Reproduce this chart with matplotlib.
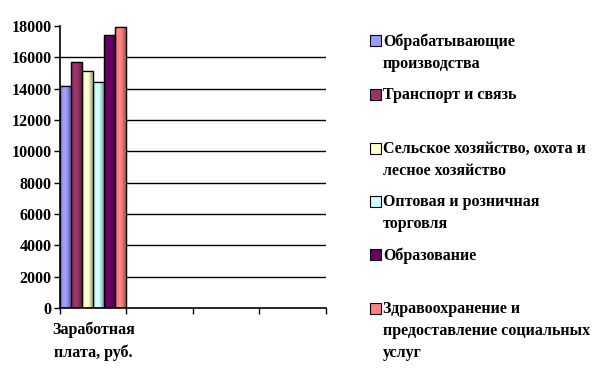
import matplotlib
matplotlib.use("Agg")
import matplotlib.pyplot as plt
from matplotlib.patches import Rectangle
from matplotlib.colors import to_rgb
import numpy as np

categories = ["Заработная\nплата, руб.", "", "", ""]
series_names = [
    "Обрабатывающие\nпроизводства",
    "Транспорт и связь",
    "Сельское хозяйство, охота и\nлесное хозяйство",
    "Оптовая и розничная\nторговля",
    "Образование",
    "Здравоохранение и\nпредоставление социальных\nуслуг",
]
values = [14200, 15700, 15100, 14400, 17400, 17950]
colors = ["#9999FF", "#993366", "#FFFFCC", "#CCFFFF", "#660066", "#FF8080"]
yticks = [0, 2000, 4000, 6000, 8000, 10000, 12000, 14000, 16000, 18000]

plt.rcParams["font.family"] = ["Liberation Serif", "DejaVu Serif"]
plt.rcParams["font.weight"] = "bold"

fig = plt.figure(figsize=(5.98, 3.70), dpi=100)
ax = fig.add_axes([0.1003, 0.1676, 0.4448, 0.7621])

n = len(values)
w = 1.0 / n
bars = []
for i, (v, c) in enumerate(zip(values, colors)):
    x = -0.5 + w * (i + 0.5)
    b = ax.bar(x, v, width=w, color=c, edgecolor="black", linewidth=0.9, zorder=3)
    bars.append(b[0])

# cylinder-like shading across each bar
prof = np.linspace(0, 1, 64)
shade = 0.78 + 0.30 * np.sin(np.pi * np.clip(prof * 1.25, 0, 1)) - 0.08 * prof
for b, c in zip(bars, colors):
    rgb = np.array(to_rgb(c))
    img = np.clip(rgb[None, :] * shade[:, None] + (shade[:, None] > 1.0) * 0.0, 0, 1)
    img = img[None, :, :]
    x0, y0 = b.get_x(), b.get_y()
    im = ax.imshow(img, extent=[x0, x0 + b.get_width(), y0, y0 + b.get_height()],
                   aspect="auto", zorder=3.5, interpolation="bilinear")
    im.set_clip_path(b)
    ax.add_patch(Rectangle((x0, y0), b.get_width(), b.get_height(), fill=False,
                           edgecolor="black", linewidth=0.9, zorder=4))

ax.set_xlim(-0.5, len(categories) - 0.5)
ax.set_ylim(0, 18000)
ax.set_yticks(yticks)
ax.set_yticklabels([str(t) for t in yticks], fontsize=11.5, fontweight="bold")
for t in yticks[1:-1]:
    ax.axhline(t, color="black", linewidth=1.0, zorder=1)

ax.set_xticks(np.arange(-0.5, len(categories), 1.0))
ax.set_xticklabels([])
ax.set_xticks(np.arange(len(categories)), minor=True)
labs = ax.set_xticklabels(categories, minor=True, fontsize=11.5, fontweight="bold",
                          linespacing=1.45)
for l in labs:
    l.set_multialignment("center")
ax.tick_params(axis="x", which="minor", length=0, pad=10)
ax.tick_params(axis="x", which="major", length=4, width=1, direction="out")
ax.tick_params(axis="y", length=4, width=1, direction="out", pad=2)

ax.spines["top"].set_visible(False)
ax.spines["right"].set_visible(False)
ax.spines["left"].set_linewidth(1.2)
ax.spines["bottom"].set_linewidth(1.2)
ax.spines["left"].set_zorder(5)
ax.spines["bottom"].set_zorder(5)

# legend drawn manually
W, H = 598, 370
entry_y = [35, 89, 143, 196, 249, 303]
for name, c, yy in zip(series_names, colors, entry_y):
    fig.patches.append(Rectangle((370 / W, 1 - (yy + 11) / H), 11 / W, 11 / H,
                                 transform=fig.transFigure, facecolor=c,
                                 edgecolor="black", linewidth=0.8))
    fig.text(383 / W, 1 - (yy - 2) / H, name, fontsize=11.5, fontweight="bold",
             va="top", ha="left", linespacing=1.5)

fig.savefig("out.png", dpi=100)
